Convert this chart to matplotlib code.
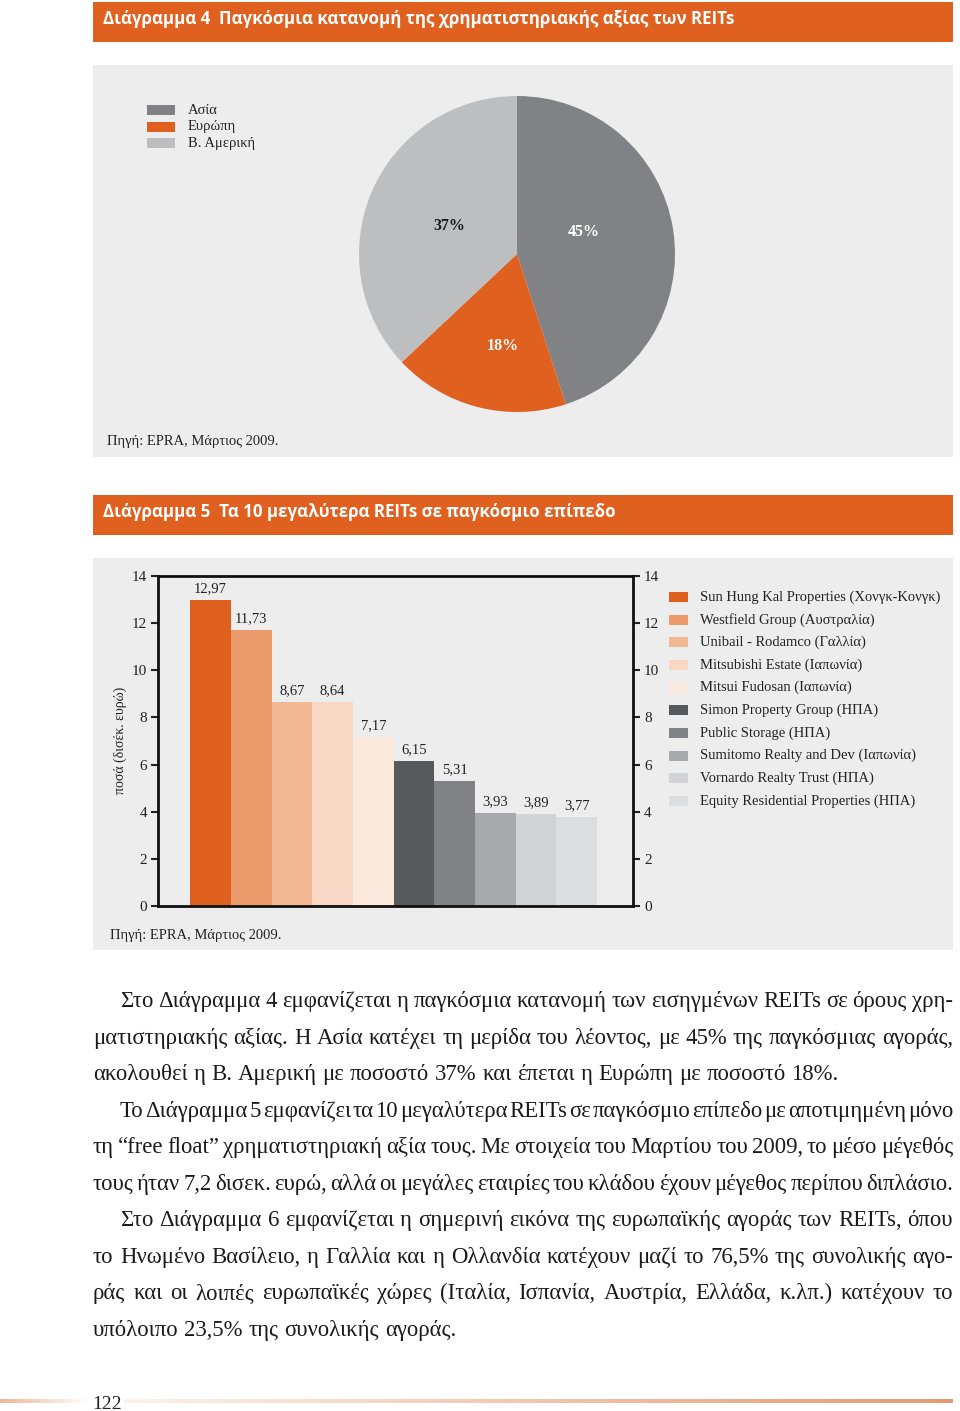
import matplotlib
matplotlib.use("Agg")
import matplotlib.pyplot as plt
import numpy as np
from matplotlib.patches import Rectangle

W, H = 960, 1411
SERIF = ["Liberation Serif", "DejaVu Serif"]
SANS = ["Open Sans", "DejaVu Sans"]
ORANGE = "#e0601f"
PANEL = "#ededed"

# Διάγραμμα 4 - pie data
regions = ["Ασία", "Ευρώπη", "Β. Αμερική"]
region_share = [45, 18, 37]
region_colors = ["#808285", ORANGE, "#bcbec0"]
pct_text_colors = ["white", "white", "#1a1a1a"]

# Διάγραμμα 5 - bar data
reits = [
    "Sun Hung Kal Properties (Χονγκ-Κονγκ)",
    "Westfield Group (Αυστραλία)",
    "Unibail - Rodamco (Γαλλία)",
    "Mitsubishi Estate (Ιαπωνία)",
    "Mitsui Fudosan (Ιαπωνία)",
    "Simon Property Group (ΗΠΑ)",
    "Public Storage (ΗΠΑ)",
    "Sumitomo Realty and Dev (Ιαπωνία)",
    "Vornardo Realty Trust (ΗΠΑ)",
    "Equity Residential Properties (ΗΠΑ)",
]
reit_values = [12.97, 11.73, 8.67, 8.64, 7.17, 6.15, 5.31, 3.93, 3.89, 3.77]
reit_colors = ["#e0601f", "#eb9a6c", "#f2b793", "#f8d7c4", "#fbe8dc",
               "#58595b", "#808285", "#a7a9ac", "#d1d3d4", "#dcddde"]
y_ticks = [0, 2, 4, 6, 8, 10, 12, 14]

title4 = "Διάγραμμα 4  Παγκόσμια κατανομή της χρηματιστηριακής αξίας των REITs"
title5 = "Διάγραμμα 5  Τα 10 μεγαλύτερα REITs σε παγκόσμιο επίπεδο"
source = "Πηγή: EPRA, Μάρτιος 2009."

# body text: (line, indent, justify)
body = [
    ("Στο Διάγραμμα 4 εμφανίζεται η παγκόσμια κατανομή των εισηγμένων REITs σε όρους χρη-", True, True),
    ("ματιστηριακής αξίας. Η Ασία κατέχει τη μερίδα του λέοντος, με 45% της παγκόσμιας αγοράς,", False, True),
    ("ακολουθεί η Β. Αμερική με ποσοστό 37% και έπεται η Ευρώπη με ποσοστό 18%.", False, False),
    ("Το Διάγραμμα 5 εμφανίζει τα 10 μεγαλύτερα REITs σε παγκόσμιο επίπεδο με αποτιμημένη μόνο", True, True),
    ("τη “free float” χρηματιστηριακή αξία τους. Με στοιχεία του Μαρτίου του 2009, το μέσο μέγεθός", False, True),
    ("τους ήταν 7,2 δισεκ. ευρώ, αλλά οι μεγάλες εταιρίες του κλάδου έχουν μέγεθος περίπου διπλάσιο.", False, True),
    ("Στο Διάγραμμα 6 εμφανίζεται η σημερινή εικόνα της ευρωπαϊκής αγοράς των REITs, όπου", True, True),
    ("το Ηνωμένο Βασίλειο, η Γαλλία και η Ολλανδία κατέχουν μαζί το 76,5% της συνολικής αγο-", False, True),
    ("ράς και οι λοιπές ευρωπαϊκές χώρες (Ιταλία, Ισπανία, Αυστρία, Ελλάδα, κ.λπ.) κατέχουν το", False, True),
    ("υπόλοιπο 23,5% της συνολικής αγοράς.", False, False),
]
page_number = "122"

fig = plt.figure(figsize=(W / 100, H / 100), dpi=100)
fig.patch.set_facecolor("white")


def px_axes(x0, y0, x1, y1):
    return fig.add_axes([x0 / W, 1 - y1 / H, (x1 - x0) / W, (y1 - y0) / H])


# background axes in pixel coordinates
bg = px_axes(0, 0, W, H)
bg.axis("off")
renderer = fig.canvas.get_renderer()


def text_width(s, **kw):
    t = bg.text(0, 0, s, **kw)
    w = t.get_window_extent(renderer).width
    t.remove()
    return w


# orange headers
tfs = 12 * 629 / text_width(title4, fontsize=12, family=SANS, weight="bold")
for y0, title in [(2, title4), (495, title5)]:
    bg.add_patch(Rectangle((93, y0), 860, 40, color=ORANGE, lw=0))
    bg.text(103, y0 + 17, title, color="white", fontsize=tfs, family=SANS,
            weight="bold", va="center", ha="left")

# grey panels
for y0 in (65, 558):
    bg.add_patch(Rectangle((93, y0), 860, 392, color=PANEL, lw=0))

# ---- pie ----
pax = px_axes(359, 96, 675, 412)
wedges, _, autotexts = pax.pie(region_share, colors=region_colors, startangle=90,
                               counterclock=False, autopct="%.0f%%",
                               wedgeprops=dict(linewidth=0))
pct_pos = [(0.42, 0.14), (-0.09, -0.585), (-0.43, 0.18)]
for t, c, p in zip(autotexts, pct_text_colors, pct_pos):
    t.set_position(p)
    t.set_color(c)
    t.set_fontfamily(SERIF)
    t.set_fontweight("bold")
    t.set_fontsize(11.5)
pax.set_xlim(-1, 1)
pax.set_ylim(-1, 1)
pax.set_aspect("equal")
pax.axis("off")

for i, (name, col) in enumerate(zip(regions, region_colors)):
    yc = 110 + 16.5 * i
    bg.add_patch(Rectangle((147, yc - 5), 28, 10, color=col, lw=0))
    bg.text(188, yc, name, fontsize=10.5, family=SERIF, va="center", color="#222222")

bg.text(107, 441, source, fontsize=10.5, family=SERIF, va="center", color="#222222")

# ---- bars ----
bax = px_axes(158, 576, 633, 906)
bax.set_facecolor("none")
xs = np.arange(len(reit_values))
bax.bar(xs, reit_values, width=1.0, color=reit_colors, linewidth=0)
for x, v in zip(xs, reit_values):
    bax.text(x, v + 0.33, f"{v:.2f}".replace(".", ","), ha="center", va="baseline",
             fontsize=10.5, family=SERIF, color="#222222")
bax.set_xlim(-1.29, 10.38)
bax.set_ylim(0, 14)
bax.set_xticks([])
bax.set_yticks(y_ticks)
bax.tick_params(axis="y", direction="out", length=5, width=1.5, left=True, right=True,
                labelleft=True, labelright=True, labelsize=11, pad=3, colors="#222222")
for lab in bax.get_yticklabels():
    lab.set_fontfamily(SERIF)
for s in bax.spines.values():
    s.set_linewidth(2)
    s.set_color("#111111")

bg.text(120, 740, "ποσά (δισέκ. ευρώ)", rotation=90, fontsize=10, family=SERIF,
        va="center", ha="center", color="#222222")

for i, (name, col) in enumerate(zip(reits, reit_colors)):
    yc = 597 + 22.65 * i
    bg.add_patch(Rectangle((669, yc - 5), 19, 10, color=col, lw=0))
    bg.text(700, yc, name, fontsize=10.5, family=SERIF, va="center", color="#222222")

bg.text(110, 935, source, fontsize=10.5, family=SERIF, va="center", color="#222222")

# ---- body text ----
ref_line = body[2][0]
bfs = 16 * 746 / text_width(ref_line, fontsize=16, family=SERIF)
space_w = (text_width("a a", fontsize=bfs, family=SERIF)
           - text_width("aa", fontsize=bfs, family=SERIF))
for i, (line, indent, justify) in enumerate(body):
    yb = 1007 + 36.55 * i
    x = 120 if indent else 93
    words = line.split(" ")
    widths = [text_width(w, fontsize=bfs, family=SERIF) for w in words]
    if justify and len(words) > 1:
        gap = (953 - x - sum(widths)) / (len(words) - 1)
    else:
        gap = space_w
    for w, ww in zip(words, widths):
        bg.text(x, yb, w, fontsize=bfs, family=SERIF, va="baseline", ha="left",
                color="#1a1a1a")
        x += ww + gap

# ---- footer ----
def grad(c0, c1, n=256):
    t = np.linspace(0, 1, n)[None, :, None]
    return np.array(c0)[None, None, :] * (1 - t) + np.array(c1)[None, None, :] * t

bg.imshow(grad((0.93, 0.72, 0.60), (1, 1, 1)), extent=(0, 90, 1403, 1399), aspect="auto")
bg.imshow(grad((0.99, 0.95, 0.92), (0.90, 0.60, 0.44)), extent=(124, 953, 1403, 1399),
          aspect="auto")
bg.text(92, 1409, page_number, fontsize=14, family=SERIF, va="baseline", color="#222222")

bg.set_xlim(0, W)
bg.set_ylim(H, 0)

fig.savefig("out.png", dpi=100, facecolor="white")
